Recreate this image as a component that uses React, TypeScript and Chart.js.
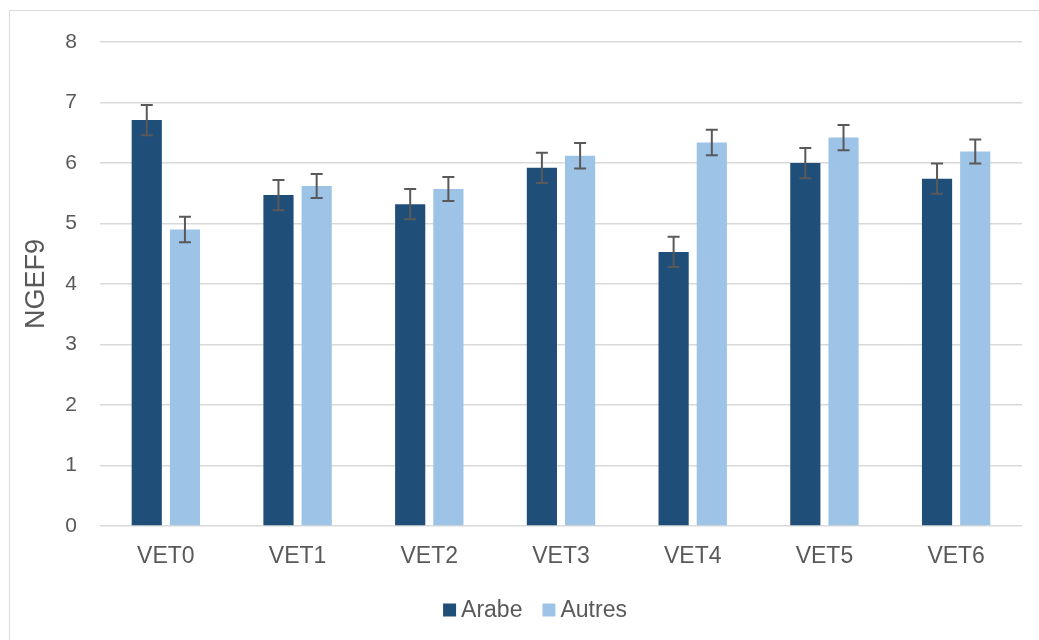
import React, { useEffect, useRef } from "react";
import { Chart, registerables } from "chart.js";

Chart.register(...registerables);

const categories = ["VET0", "VET1", "VET2", "VET3", "VET4", "VET5", "VET6"];
const arabeValues = [6.71, 5.47, 5.32, 5.92, 4.53, 6.0, 5.74];
const arabeErrors = [0.25, 0.25, 0.25, 0.25, 0.25, 0.25, 0.25];
const autresValues = [4.9, 5.62, 5.57, 6.12, 6.34, 6.42, 6.19];
const autresErrors = [0.21, 0.2, 0.2, 0.21, 0.21, 0.21, 0.2];
const yTicks = [0, 1, 2, 3, 4, 5, 6, 7, 8];

const FONT = "'Liberation Sans', Arial, Helvetica, sans-serif";
const TEXT = "#595959";

const errorBarPlugin = {
  id: "errorBars",
  afterDatasetsDraw(chart: any) {
    const ctx = chart.ctx;
    const yScale = chart.scales.y;
    chart.data.datasets.forEach((ds: any, di: number) => {
      const meta = chart.getDatasetMeta(di);
      if (meta.hidden) return;
      meta.data.forEach((bar: any, i: number) => {
        const v = ds.data[i];
        const e = ds.errors[i];
        const yTop = yScale.getPixelForValue(v + e);
        const yBot = yScale.getPixelForValue(v - e);
        const x = bar.x;
        ctx.save();
        ctx.strokeStyle = "#595959";
        ctx.lineWidth = 2;
        ctx.beginPath();
        ctx.moveTo(x, yTop);
        ctx.lineTo(x, yBot);
        ctx.moveTo(x - 6, yTop);
        ctx.lineTo(x + 6, yTop);
        ctx.moveTo(x - 6, yBot);
        ctx.lineTo(x + 6, yBot);
        ctx.stroke();
        ctx.restore();
      });
    });
  },
};

const borderPlugin = {
  id: "outerBorder",
  beforeDraw(chart: any) {
    const ctx = chart.ctx;
    ctx.save();
    ctx.fillStyle = "#ffffff";
    ctx.fillRect(0, 0, chart.width, chart.height);
    ctx.strokeStyle = "#d9d9d9";
    ctx.lineWidth = 1;
    ctx.strokeRect(9.5, 10.5, chart.width + 20, chart.height + 20);
    ctx.restore();
  },
};

const legendPlugin = {
  id: "customLegend",
  afterDraw(chart: any) {
    const ctx = chart.ctx;
    const box = 13;
    const gapText = 5;
    const gapItem = 20;
    const centerX = 535;
    const baseline = 616.5;
    ctx.save();
    ctx.font = `23px ${FONT}`;
    const items = chart.data.datasets.map((ds: any) => ({
      label: ds.label,
      color: ds.backgroundColor,
      w: ctx.measureText(ds.label).width,
    }));
    const total =
      items.reduce((s: number, it: any) => s + box + gapText + it.w, 0) +
      gapItem * (items.length - 1);
    let x = centerX - total / 2;
    items.forEach((it: any) => {
      ctx.fillStyle = it.color;
      ctx.fillRect(x, baseline - box, box, box);
      x += box + gapText;
      ctx.fillStyle = TEXT;
      ctx.textAlign = "left";
      ctx.textBaseline = "alphabetic";
      ctx.fillText(it.label, x, baseline);
      x += it.w + gapItem;
    });
    ctx.restore();
  },
};

export default function App() {
  const ref = useRef<HTMLCanvasElement | null>(null);

  useEffect(() => {
    document.body.style.margin = "0";
    if (!ref.current) return;
    const chart = new Chart(ref.current, {
      type: "bar",
      data: {
        labels: categories,
        datasets: [
          {
            label: "Arabe",
            data: arabeValues,
            errors: arabeErrors,
            backgroundColor: "#1F4E79",
            categoryPercentage: 0.58,
            barPercentage: 0.79,
          } as any,
          {
            label: "Autres",
            data: autresValues,
            errors: autresErrors,
            backgroundColor: "#9DC3E6",
            categoryPercentage: 0.58,
            barPercentage: 0.79,
          } as any,
        ],
      },
      options: {
        animation: false,
        responsive: false,
        maintainAspectRatio: false,
        layout: { padding: { left: 10, right: 17, top: 42, bottom: 64 } },
        plugins: {
          tooltip: { enabled: false },
          legend: { display: false },
        },
        scales: {
          x: {
            grid: { display: false },
            border: { display: false },
            ticks: {
              color: TEXT,
              font: { family: FONT, size: 23 },
              padding: 9,
            },
            afterFit(scale: any) {
              scale.height = 50;
            },
          },
          y: {
            min: 0,
            max: 8,
            afterBuildTicks(scale: any) {
              scale.ticks = yTicks.map((v) => ({ value: v }));
            },
            grid: {
              color: "#d9d9d9",
              lineWidth: 1.5,
              drawTicks: false,
            },
            border: { display: false },
            ticks: {
              color: TEXT,
              font: { family: FONT, size: 21 },
              padding: 23,
            },
            title: {
              display: true,
              text: "NGEF9",
              color: TEXT,
              font: { family: FONT, size: 27 },
              padding: { top: 10, bottom: 0 },
            },
            afterFit(scale: any) {
              scale.width = 90;
            },
          },
        },
      },
      plugins: [borderPlugin, errorBarPlugin, legendPlugin],
    });
    return () => chart.destroy();
  }, []);

  return (
    <div style={{ width: 1039, height: 640 }}>
      <canvas ref={ref} width={1039} height={640} style={{ display: "block" }} />
    </div>
  );
}
